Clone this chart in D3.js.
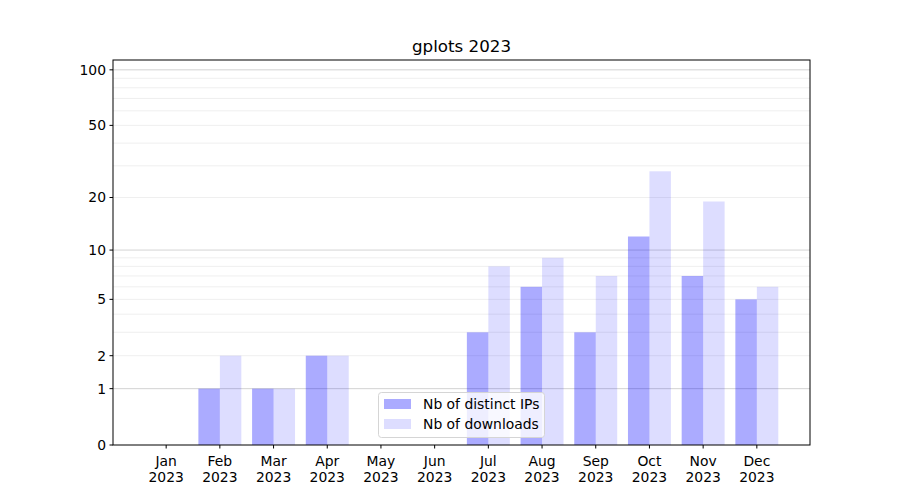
<!DOCTYPE html>
<html><head><meta charset="utf-8">
<script src="https://cdn.jsdelivr.net/npm/d3@7"></script>
<style>body{margin:0;background:#fff}svg{display:block;font-family:"DejaVu Sans",sans-serif}</style>
</head><body><svg id="c" width="900" height="500"></svg>
<script>
const months = ["Jan","Feb","Mar","Apr","May","Jun","Jul","Aug","Sep","Oct","Nov","Dec"];
const yearLabel = "2023";
const distinctIPs = [0,1,1,2,0,0,3,6,3,12,7,5];
const downloads = [0,2,1,2,0,0,8,9,7,28,19,6];
const yTicks = [0,1,2,5,10,20,50,100];
const majorGrid = [1,10,100];
const minorGrid = [2,3,4,5,6,7,8,9,20,30,40,50,60,70,80,90];
const seriesNames = ["Nb of distinct IPs","Nb of downloads"];
const seriesColors = ["rgba(0,0,255,0.33)","rgba(0,0,255,0.135)"];

const svg = d3.select("#c");
const L=113,R=810,T=60,B=445;
const x = d3.scaleLinear().domain([-0.99,11.99]).range([L,R]);
const yl = d3.scaleLog().domain([1,114]).range([B,T]);
const y = v => yl(v+1);
const bw = 0.4;
const fs = "13.9px";

// grid
svg.append("g").selectAll("line").data(minorGrid).join("line")
 .attr("x1",L).attr("x2",R).attr("y1",d=>y(d)).attr("y2",d=>y(d))
 .attr("stroke","#ebebeb").attr("stroke-width",0.8);
svg.append("g").selectAll("line").data(majorGrid).join("line")
 .attr("x1",L).attr("x2",R).attr("y1",d=>y(d)).attr("y2",d=>y(d))
 .attr("stroke","#c8c8c8").attr("stroke-width",0.8);

// bars
svg.append("g").selectAll("rect").data(distinctIPs).join("rect")
 .attr("x",(d,i)=>x(i-bw)).attr("width",(d,i)=>x(i)-x(i-bw))
 .attr("y",d=>y(d)).attr("height",d=>B-y(d)).attr("fill",seriesColors[0]);
svg.append("g").selectAll("rect").data(downloads).join("rect")
 .attr("x",(d,i)=>x(i)).attr("width",(d,i)=>x(i+bw)-x(i))
 .attr("y",d=>y(d)).attr("height",d=>B-y(d)).attr("fill",seriesColors[1]);

// frame
svg.append("rect").attr("x",L).attr("y",T).attr("width",R-L).attr("height",B-T)
 .attr("fill","none").attr("stroke","#000").attr("stroke-width",1);

// y ticks
const yg = svg.append("g");
yTicks.forEach(t=>{
  yg.append("line").attr("x1",L-3.5).attr("x2",L).attr("y1",y(t)).attr("y2",y(t)).attr("stroke","#000");
  yg.append("text").attr("x",L-7).attr("y",y(t)).attr("dy","0.35em").attr("text-anchor","end")
    .attr("font-size",fs).text(t);
});
// x ticks
const xg = svg.append("g");
months.forEach((m,i)=>{
  xg.append("line").attr("x1",x(i)).attr("x2",x(i)).attr("y1",B).attr("y2",B+3.5).attr("stroke","#000");
  xg.append("text").attr("x",x(i)).attr("y",466).attr("text-anchor","middle").attr("font-size",fs).text(m);
  xg.append("text").attr("x",x(i)).attr("y",482).attr("text-anchor","middle").attr("font-size",fs).text(yearLabel);
});

// title
svg.append("text").attr("x",(L+R)/2).attr("y",52).attr("text-anchor","middle").attr("font-size","16.7px").text("gplots 2023");

// legend
const lg = svg.append("g");
lg.append("rect").attr("x",378.5).attr("y",392.5).attr("width",166).attr("height",45).attr("rx",3)
 .attr("fill","rgba(255,255,255,0.8)").attr("stroke","#d5d5d5");
seriesNames.forEach((n,i)=>{
  lg.append("rect").attr("x",384).attr("y",399+i*20).attr("width",27).attr("height",10).attr("fill",seriesColors[i]);
  lg.append("text").attr("x",423).attr("y",404+i*20).attr("dy","0.35em").attr("font-size",fs).text(n);
});
</script></body></html>
